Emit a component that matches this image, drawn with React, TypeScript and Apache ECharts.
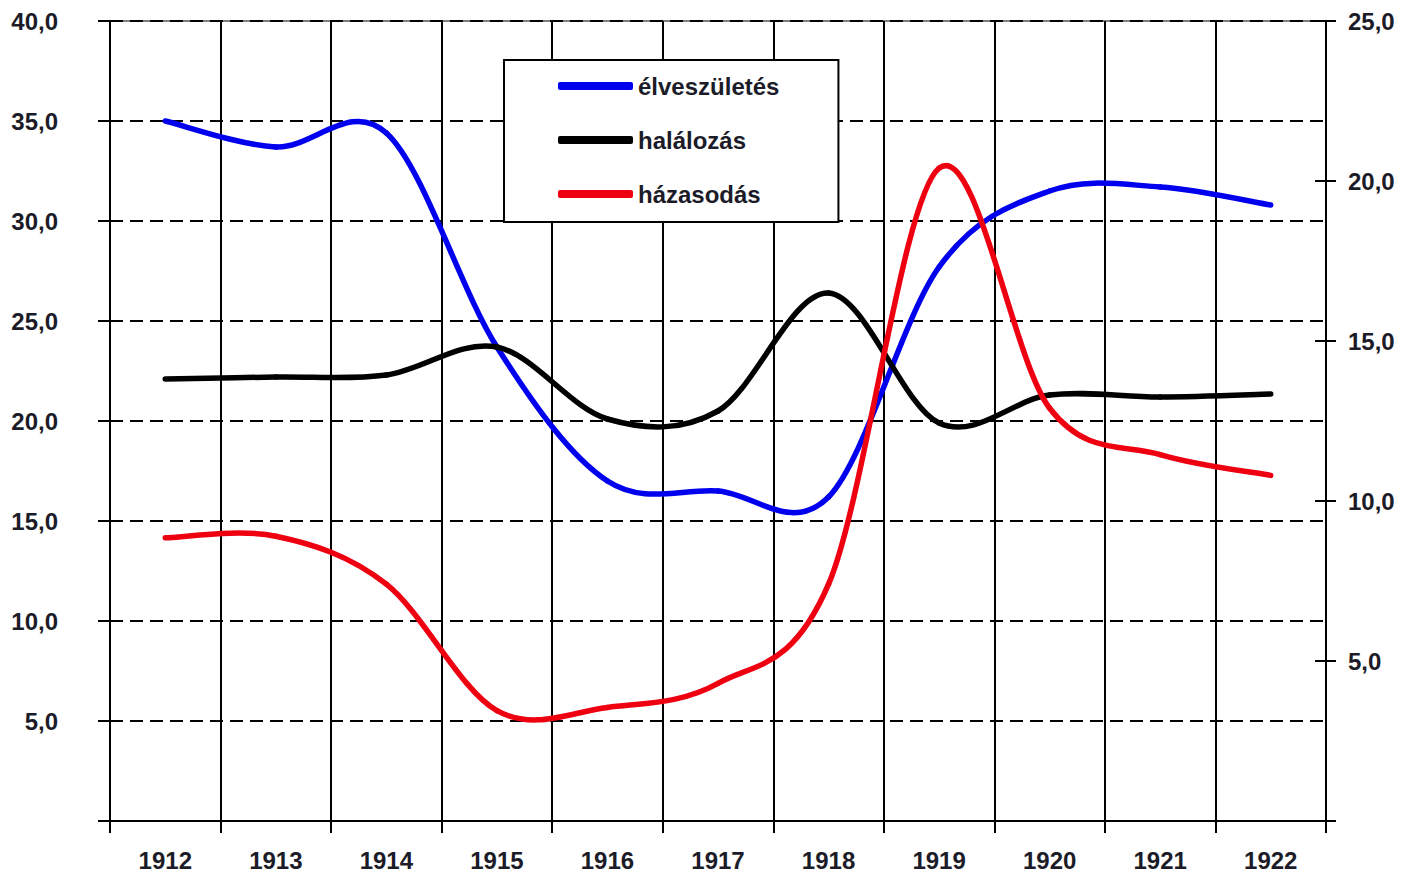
import React, { useEffect, useRef } from "react";
import * as echarts from "echarts";

const years = ["1912", "1913", "1914", "1915", "1916", "1917", "1918", "1919", "1920", "1921", "1922"];
const births = [35.0, 33.7, 34.4, 23.7, 17.0, 16.5, 16.2, 27.7, 31.5, 31.7, 30.8];
const deaths = [22.1, 22.2, 22.3, 23.7, 20.1, 20.5, 26.4, 19.9, 21.3, 21.2, 21.35];
const marriages = [8.85, 8.9, 7.4, 3.45, 3.55, 4.3, 7.4, 20.4, 12.9, 11.45, 10.8];

const seriesNames = ["élveszületés", "halálozás", "házasodás"];
const seriesColors = ["#0000ee", "#000000", "#ee0011"];

const leftTicks = { min: 0, max: 40, interval: 5 };
const rightTicks = { min: 0, max: 25, interval: 5 };

const FONT = "'Liberation Sans', Arial, sans-serif";
const TEXT = "#1c1c28";

function fmt(v: number) {
  if (v === 0) return "";
  return v.toFixed(1).replace(".", ",");
}

function makeRenderItem(values: number[], color: string) {
  return (params: any, api: any) => {
    const i = params.dataIndex;
    const n = values.length;
    if (i >= n - 1) return null;
    const p = (k: number) => {
      const kk = Math.max(0, Math.min(n - 1, k));
      return api.coord([kk, values[kk]]);
    };
    const p0 = p(i - 1);
    const p1 = p(i);
    const p2 = p(i + 1);
    const p3 = p(i + 2);
    return {
      type: "bezierCurve",
      shape: {
        x1: p1[0],
        y1: p1[1],
        x2: p2[0],
        y2: p2[1],
        cpx1: p1[0] + (p2[0] - p0[0]) / 6,
        cpy1: p1[1] + (p2[1] - p0[1]) / 6,
        cpx2: p2[0] - (p3[0] - p1[0]) / 6,
        cpy2: p2[1] - (p3[1] - p1[1]) / 6,
      },
      style: { stroke: color, lineWidth: 5.5, fill: "none", lineCap: "round" },
    };
  };
}

export default function App() {
  const ref = useRef<HTMLDivElement>(null);
  useEffect(() => {
    if (!ref.current) return;
    const chart = echarts.init(ref.current, undefined, { renderer: "svg" });
    const datasets = [births, deaths, marriages];
    const option: any = {
      animation: false,
      backgroundColor: "#ffffff",
      color: seriesColors,
      grid: {
        left: 110,
        right: 90,
        top: 21,
        bottom: 58,
        show: true,
        borderColor: "#555555",
        borderWidth: 1.5,
        outerBoundsMode: "none",
        containLabel: false,
      },
      legend: {
        show: true,
        data: seriesNames,
        orient: "vertical",
        left: 504,
        top: 60,
        padding: [8, 59, 10, 54],
        itemGap: 18,
        itemWidth: 75,
        itemHeight: 8,
        icon: "roundRect",
        borderColor: "#000000",
        borderWidth: 2,
        backgroundColor: "#ffffff",
        textStyle: {
          fontSize: 24,
          fontWeight: "bold",
          fontFamily: FONT,
          color: TEXT,
          lineHeight: 30,
          padding: [6, 0, 0, 0],
        },
      },
      xAxis: {
        type: "category",
        data: years,
        boundaryGap: true,
        axisLine: { show: true, lineStyle: { color: "#000", width: 2 } },
        axisTick: { show: true, length: 12, interval: 0, lineStyle: { color: "#000", width: 2 } },
        splitLine: { show: true, interval: 0, lineStyle: { color: "#000", width: 2, type: "solid" } },
        axisLabel: {
          interval: 0,
          margin: 27,
          fontSize: 24,
          fontWeight: "bold",
          fontFamily: FONT,
          color: TEXT,
        },
      },
      yAxis: [
        {
          type: "value",
          position: "left",
          ...leftTicks,
          axisLine: { show: true, lineStyle: { color: "#000", width: 2 } },
          axisTick: { show: true, length: 12, lineStyle: { color: "#000", width: 2 } },
          splitLine: { show: true, lineStyle: { color: "#000", width: 2, type: [13, 7] } },
          axisLabel: {
            formatter: fmt,
            margin: 52,
            fontSize: 24,
            fontWeight: "bold",
            fontFamily: FONT,
            color: TEXT,
          },
        },
        {
          type: "value",
          position: "right",
          ...rightTicks,
          axisLine: { show: true, lineStyle: { color: "#000", width: 2 } },
          axisTick: { show: true, length: 10, lineStyle: { color: "#000", width: 2 } },
          splitLine: { show: false },
          axisLabel: {
            formatter: fmt,
            margin: 22,
            fontSize: 24,
            fontWeight: "bold",
            fontFamily: FONT,
            color: TEXT,
          },
        },
        {
          type: "value",
          position: "right",
          ...rightTicks,
          axisLine: { show: false },
          axisTick: { show: true, inside: true, length: 11, lineStyle: { color: "#000", width: 2 } },
          splitLine: { show: false },
          axisLabel: { show: false },
        },
      ],
      series: seriesNames.map((name, idx) => ({
        name,
        type: "custom",
        yAxisIndex: idx === 2 ? 1 : 0,
        itemStyle: { color: seriesColors[idx] },
        encode: { x: 0, y: 1 },
        data: datasets[idx].map((v, i) => [i, v]),
        renderItem: makeRenderItem(datasets[idx], seriesColors[idx]),
        z: 3,
      })),
    };
    chart.setOption(option);
    return () => chart.dispose();
  }, []);
  return (
    <div
      ref={ref}
      style={{ position: "absolute", left: 0, top: 0, width: 1416, height: 879, background: "#fff" }}
    />
  );
}
